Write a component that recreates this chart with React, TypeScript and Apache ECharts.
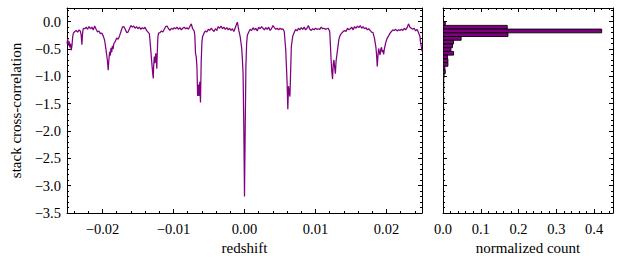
import React, { useEffect, useRef } from "react";
import * as echarts from "echarts";

// ---- data ----
const redshift = [
  -0.025, -0.0249, -0.0248, -0.0247, -0.0246, -0.0245, -0.0244, -0.0243, -0.0242, -0.0241,
  -0.0239, -0.0237, -0.0235, -0.0233, -0.0231, -0.023, -0.0229, -0.0228, -0.0227, -0.0225,
  -0.0223, -0.0221, -0.0219, -0.0217, -0.0215, -0.0213, -0.0211, -0.0209, -0.0207, -0.0205,
  -0.0203, -0.0201, -0.0199, -0.0197, -0.0195, -0.0193, -0.0192, -0.0191, -0.019, -0.0189,
  -0.0188, -0.0187, -0.0186, -0.0185, -0.0184, -0.0182, -0.018, -0.0178, -0.0176, -0.0174,
  -0.0172, -0.017, -0.0168, -0.0166, -0.0164, -0.0162, -0.016, -0.0158, -0.0156, -0.0154,
  -0.0152, -0.015, -0.0148, -0.0146, -0.0144, -0.0142, -0.014, -0.0138, -0.0136, -0.0134,
  -0.0133, -0.0132, -0.0131, -0.013, -0.0129, -0.01285, -0.0128, -0.0127, -0.0126, -0.0125,
  -0.0124, -0.01235, -0.0123, -0.0122, -0.0121, -0.0119, -0.0117, -0.0115, -0.0113, -0.0111,
  -0.0109, -0.0107, -0.0105, -0.0103, -0.0101, -0.0099, -0.0097, -0.0095, -0.0093, -0.0091,
  -0.0089, -0.0087, -0.0085, -0.0083, -0.0081, -0.0079, -0.0077, -0.0075, -0.0073, -0.0071,
  -0.007, -0.0069, -0.0068, -0.0067, -0.0066, -0.0065, -0.0064, -0.0063, -0.0062, -0.0061,
  -0.006, -0.0059, -0.0057, -0.0055, -0.0053, -0.0051, -0.0049, -0.0047, -0.0045, -0.0043,
  -0.0041, -0.0039, -0.0037, -0.0035, -0.0033, -0.0031, -0.0029, -0.0027, -0.0025, -0.0023,
  -0.0021, -0.0019, -0.0017, -0.0015, -0.0013, -0.0011, -0.001, -0.0008, -0.0006, -0.0004,
  -0.0003, -0.0002, -0.0001, 0.0, 0.0001, 0.0002, 0.0003, 0.0004, 0.0006, 0.0008,
  0.001, 0.0012, 0.0014, 0.0016, 0.0018, 0.002, 0.0022, 0.0024, 0.0026, 0.0028,
  0.003, 0.0032, 0.0034, 0.0036, 0.0038, 0.004, 0.0042, 0.0044, 0.0046, 0.0048,
  0.005, 0.0052, 0.0054, 0.0056, 0.0058, 0.0059, 0.006, 0.0061, 0.0062, 0.0063,
  0.0064, 0.0065, 0.0066, 0.0068, 0.007, 0.0072, 0.0074, 0.0076, 0.0078, 0.008,
  0.0082, 0.0084, 0.0086, 0.0088, 0.009, 0.0092, 0.0094, 0.0096, 0.0098, 0.01,
  0.0102, 0.0104, 0.0106, 0.0108, 0.011, 0.0112, 0.0114, 0.0116, 0.0118, 0.012,
  0.0121, 0.0122, 0.0123, 0.0124, 0.0125, 0.0126, 0.0127, 0.0128, 0.0129, 0.0131,
  0.0133, 0.0135, 0.0137, 0.0139, 0.0141, 0.0143, 0.0145, 0.0147, 0.0149, 0.0151,
  0.0153, 0.0155, 0.0157, 0.0159, 0.0161, 0.0163, 0.0165, 0.0167, 0.0169, 0.0171,
  0.0173, 0.0175, 0.0177, 0.0179, 0.0181, 0.0183, 0.0185, 0.0186, 0.0187, 0.0188,
  0.0189, 0.019, 0.0191, 0.0192, 0.0193, 0.0194, 0.0195, 0.0196, 0.0197, 0.0199,
  0.0201, 0.0203, 0.0205, 0.0207, 0.0209, 0.0211, 0.0213, 0.0215, 0.0217, 0.0219,
  0.0221, 0.0223, 0.0225, 0.0227, 0.0229, 0.0231, 0.0233, 0.0235, 0.0237, 0.0239,
  0.0241, 0.0243, 0.0245, 0.0247, 0.0248, 0.0249, 0.025,
];

const correlation = [
  -0.4, -0.32, -0.44, -0.36, -0.47, -0.4, -0.52, -0.44, -0.28, -0.21,
  -0.18, -0.16, -0.19, -0.15, -0.18, -0.25, -0.42, -0.2, -0.12, -0.13,
  -0.1, -0.14, -0.09, -0.13, -0.1, -0.15, -0.08, -0.14, -0.19, -0.17,
  -0.22, -0.21, -0.26, -0.34, -0.52, -0.72, -0.89, -0.7, -0.55, -0.62,
  -0.48, -0.56, -0.44, -0.5, -0.4, -0.36, -0.3, -0.32, -0.26, -0.18,
  -0.1, -0.09, -0.14, -0.2, -0.19, -0.13, -0.07, -0.1, -0.08, -0.12,
  -0.09, -0.13, -0.1, -0.14, -0.11, -0.13, -0.1, -0.16, -0.19, -0.22,
  -0.36, -0.52, -0.68, -0.84, -0.98, -1.04, -0.82, -0.64, -0.76, -0.58,
  -0.72, -0.86, -0.62, -0.28, -0.21, -0.2, -0.17, -0.19, -0.14, -0.09,
  -0.08, -0.13, -0.16, -0.12, -0.14, -0.11, -0.13, -0.1, -0.14, -0.11,
  -0.15, -0.12, -0.1, -0.13, -0.11, -0.14, -0.09, -0.04, -0.13, -0.17,
  -0.24, -0.58, -0.64, -0.82, -1.36, -1.15, -1.36, -1.1, -1.48, -0.74,
  -0.38, -0.27, -0.21, -0.17, -0.19, -0.14, -0.16, -0.12, -0.15, -0.18,
  -0.13, -0.16, -0.09, -0.12, -0.08, -0.13, -0.1, -0.14, -0.11, -0.15,
  -0.12, -0.16, -0.13, -0.18, -0.11, -0.04, -0.01, -0.16, -0.28, -0.48,
  -0.68, -0.95, -1.9, -3.2, -1.95, -0.8, -0.4, -0.25, -0.19, -0.14,
  -0.16, -0.11, -0.15, -0.12, -0.17, -0.1, -0.13, -0.09, -0.12, -0.15,
  -0.11, -0.14, -0.1, -0.16, -0.13, -0.07, -0.11, -0.14, -0.12, -0.15,
  -0.12, -0.14, -0.13, -0.18, -0.5, -0.8, -1.12, -1.6, -1.18, -1.3,
  -1.37, -0.9, -0.45, -0.26, -0.2, -0.14, -0.17, -0.12, -0.15, -0.11,
  -0.14, -0.1, -0.15, -0.12, -0.07, -0.14, -0.16, -0.13, -0.15, -0.12,
  -0.14, -0.13, -0.14, -0.1, -0.13, -0.12, -0.14, -0.13, -0.12, -0.18,
  -0.42, -0.7, -0.92, -1.05, -0.78, -0.7, -0.84, -0.95, -0.72, -0.52,
  -0.32, -0.24, -0.21, -0.18, -0.16, -0.18, -0.12, -0.15, -0.13, -0.1,
  -0.15, -0.09, -0.12, -0.08, -0.11, -0.07, -0.12, -0.09, -0.13, -0.11,
  -0.15, -0.13, -0.16, -0.19, -0.2, -0.3, -0.46, -0.6, -0.82, -0.62,
  -0.49, -0.56, -0.61, -0.5, -0.47, -0.56, -0.52, -0.6, -0.5, -0.38,
  -0.3, -0.26, -0.21, -0.18, -0.15, -0.16, -0.14, -0.17, -0.15, -0.16,
  -0.14, -0.16, -0.12, -0.15, -0.11, -0.04, -0.1, -0.12, -0.14, -0.12,
  -0.17, -0.14, -0.2, -0.26, -0.38, -0.45, -0.54,
];

// histogram (horizontal): bins from the top edge downward
const histTopEdge = 0.0;
const histBinWidth = 0.068;
const histCounts = [
  0.006, 0.17, 0.42, 0.172, 0.048, 0.028, 0.025, 0.021, 0.028, 0.012,
  0.013, 0.013, 0.005, 0.006, 0.003, 0.002, 0.002, 0.002, 0.002, 0.001,
  0.002, 0.002, 0.001, 0.002,
];

const PURPLE = "#800080";
const FONT = '"Liberation Serif", "DejaVu Serif", serif';
const minus = (s: string) => s.replace("-", "\u2212");

function frameAxis(extra: any) {
  return {
    type: "value",
    axisLine: { show: true, onZero: false, lineStyle: { color: "#000", width: 1 } },
    axisTick: { show: true, inside: true, length: 4, lineStyle: { color: "#000", width: 1 } },
    minorTick: { show: true, splitNumber: 5, length: 2, lineStyle: { color: "#000", width: 1 } },
    splitLine: { show: false },
    minorSplitLine: { show: false },
    axisLabel: { show: false },
    ...extra,
  };
}

export default function App() {
  const ref = useRef<HTMLDivElement>(null);
  useEffect(() => {
    if (!ref.current) return;
    const chart = echarts.init(ref.current, undefined, { renderer: "svg" });
    const lineData = redshift.map((z, i) => [z, correlation[i]]);
    const histData = histCounts.map((c, i) => [
      histTopEdge - i * histBinWidth,
      histTopEdge - (i + 1) * histBinWidth,
      c,
    ]);
    const labelStyle = { color: "#000", fontFamily: FONT, fontSize: 14.5 };
    const nameStyle = { color: "#000", fontFamily: FONT, fontSize: 15 };

    chart.setOption({
      animation: false,
      backgroundColor: "#fff",
      grid: [
        { left: 67, top: 8, width: 355, height: 205, outerBoundsMode: "none" },
        { left: 443, top: 8, width: 170, height: 205, outerBoundsMode: "none" },
      ],
      xAxis: [
        frameAxis({
          gridIndex: 0, position: "bottom", min: -0.025, max: 0.025, splitNumber: 5,
          axisLabel: {
            show: true, margin: 8, showMinLabel: false, showMaxLabel: false, ...labelStyle,
            formatter: (v: number) => minus(v.toFixed(2)),
          },
          name: "redshift", nameLocation: "middle", nameGap: 26, nameTextStyle: nameStyle,
        }),
        frameAxis({ gridIndex: 0, position: "top", min: -0.025, max: 0.025, splitNumber: 5 }),
        frameAxis({
          gridIndex: 1, position: "bottom", min: 0, max: 0.45, interval: 0.1,
          axisLabel: {
            show: true, margin: 8, showMaxLabel: false, ...labelStyle,
            formatter: (v: number) => v.toFixed(1),
          },
          name: "normalized count", nameLocation: "middle", nameGap: 26, nameTextStyle: nameStyle,
        }),
        frameAxis({ gridIndex: 1, position: "top", min: 0, max: 0.45, interval: 0.1 }),
      ],
      yAxis: [
        frameAxis({
          gridIndex: 0, position: "left", min: -3.5, max: 0.25, interval: 0.5,
          axisLabel: {
            show: true, margin: 6, showMaxLabel: false, ...labelStyle,
            formatter: (v: number) => minus(v.toFixed(1)),
          },
          name: "stack cross-correlation", nameLocation: "middle", nameGap: 44, nameTextStyle: nameStyle,
        }),
        frameAxis({ gridIndex: 0, position: "right", min: -3.5, max: 0.25, interval: 0.5 }),
        frameAxis({ gridIndex: 1, position: "left", min: -3.5, max: 0.25, interval: 0.5 }),
        frameAxis({ gridIndex: 1, position: "right", min: -3.5, max: 0.25, interval: 0.5 }),
      ],
      series: [
        {
          type: "line", xAxisIndex: 0, yAxisIndex: 0, data: lineData,
          showSymbol: false, symbol: "none", clip: true,
          lineStyle: { color: PURPLE, width: 1.25 },
          z: 3,
        },
        {
          type: "custom", xAxisIndex: 2, yAxisIndex: 2, data: histData, clip: true,
          encode: { x: 2, y: [0, 1] },
          renderItem: (_params: any, api: any) => {
            const top = api.value(0);
            const bottom = api.value(1);
            const count = api.value(2);
            const p1 = api.coord([0, top]);
            const p2 = api.coord([count, bottom]);
            return {
              type: "rect",
              shape: { x: p1[0], y: p1[1], width: p2[0] - p1[0], height: p2[1] - p1[1] },
              style: { fill: PURPLE, stroke: "#000", lineWidth: 0.9 },
            };
          },
          z: 3,
        },
      ],
    });
    return () => chart.dispose();
  }, []);
  return (
    <div
      ref={ref}
      style={{ position: "absolute", left: 0, top: 0, width: 622, height: 262, background: "#fff" }}
    />
  );
}
